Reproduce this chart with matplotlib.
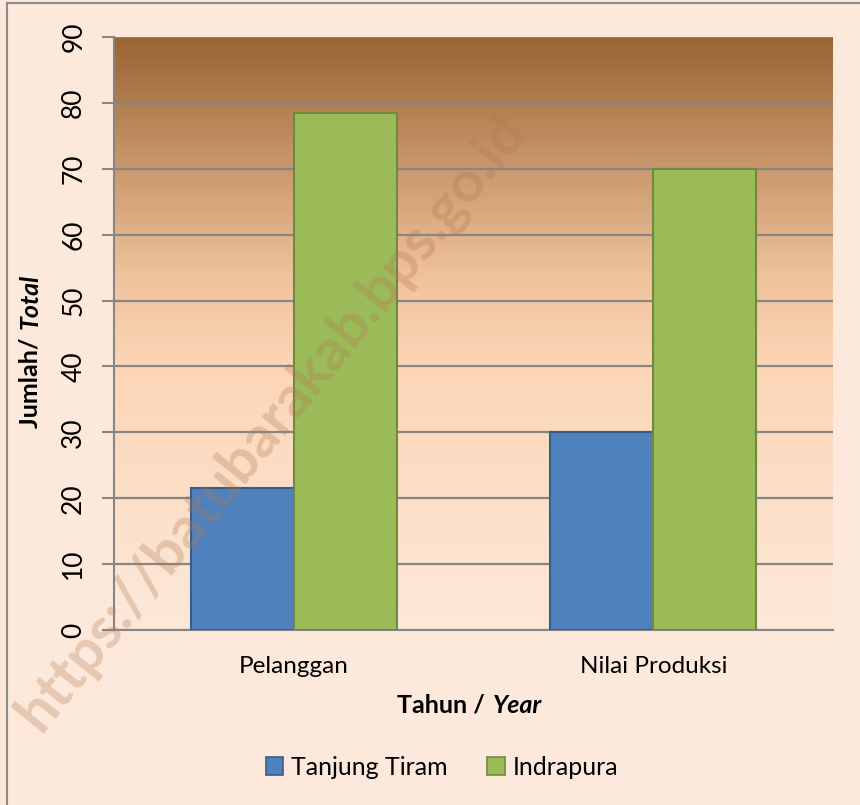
import numpy as np
import matplotlib.pyplot as plt
from matplotlib.colors import LinearSegmentedColormap
from matplotlib.patches import Patch

plt.rcParams["font.family"] = ["Lato", "DejaVu Sans"]

categories = ["Pelanggan", "Nilai Produksi"]
tanjung_tiram = [21.5, 30]
indrapura = [78.5, 70]
series_names = ["Tanjung Tiram", "Indrapura"]
yticks = [0, 10, 20, 30, 40, 50, 60, 70, 80, 90]

bg = "#FDE9DB"
blue, blue_edge = "#4F81BD", "#385D8A"
green, green_edge = "#9BBB59", "#71893F"
grid_col = "#868686"

fig = plt.figure(figsize=(8.6, 8.05), dpi=100)
fig.patch.set_facecolor(bg)
ax = fig.add_axes([114/860, 1-630/805, (833-114)/860, (630-37)/805])

# gradient background of the plot area
grad = LinearSegmentedColormap.from_list(
    "bg", [(0, "#FDE9DA"), (0.45, "#FBD5B5"), (0.6, "#EFC29B"), (1, "#9A6432")])
ax.imshow(np.linspace(0, 1, 256).reshape(-1, 1), cmap=grad, origin="lower",
          extent=[-0.5, 1.5, 0, 90], aspect="auto", zorder=0)

x = np.arange(len(categories))
w = 0.2865
ax.bar(x - w/2, tanjung_tiram, w, color=blue, edgecolor=blue_edge, linewidth=1.5, zorder=3)
ax.bar(x + w/2, indrapura, w, color=green, edgecolor=green_edge, linewidth=1.5, zorder=3)

ax.set_xlim(-0.5, 1.5)
ax.set_ylim(0, 90)
ax.set_yticks(yticks)
ax.set_yticklabels([str(v) for v in yticks], rotation=90, va="center", fontsize=19)
ax.set_xticks(x)
ax.set_xticklabels(categories, fontsize=17.5)
ax.tick_params(axis="x", length=0, pad=19)
ax.tick_params(axis="y", length=9, width=1.5, color=grid_col, pad=11)
for v in yticks:
    ax.axhline(v, color=grid_col, lw=1.6, zorder=2)
for s in ["top", "right"]:
    ax.spines[s].set_visible(False)
ax.spines["left"].set_color(grid_col)
ax.spines["left"].set_linewidth(1.5)
ax.spines["bottom"].set_color(grid_col)
ax.spines["bottom"].set_linewidth(1.5)

# axis titles with mixed styles
fig.text(30/860, 1-331/805, "Jumlah/ ", rotation=90, ha="center", va="top",
         fontsize=18, fontweight="bold")
fig.text(30/860, 1-329/805, "Total", rotation=90, ha="center", va="bottom",
         fontsize=18, fontweight="bold", style="italic")
fig.text(491/860, 1-705/805, "Tahun / ", ha="right", va="center",
         fontsize=18, fontweight="bold")
fig.text(493/860, 1-705/805, "Year", ha="left", va="center",
         fontsize=18, fontweight="bold", style="italic")

handles = [Patch(facecolor=blue, edgecolor=blue_edge, lw=1.2),
           Patch(facecolor=green, edgecolor=green_edge, lw=1.2)]
fig.legend(handles, series_names, loc="center", bbox_to_anchor=(442/860, 1-767/805),
           ncol=2, frameon=False, fontsize=18, handlelength=0.7, handleheight=0.7,
           handletextpad=0.3, columnspacing=1.6)

# watermark
fig.text(272/860, 1-422/805, "https://batubarakab.bps.go.id", rotation=51,
         ha="center", va="center", fontsize=42, fontweight="bold",
         color="#B07850", alpha=0.3, zorder=10)

# outer border
fig.add_artist(plt.Line2D([7/860, 7/860], [0, 1-3/805], color="#8C8C8C", lw=1.5))
fig.add_artist(plt.Line2D([7/860, 1], [1-3/805, 1-3/805], color="#8C8C8C", lw=1.5))

plt.savefig("out.png", dpi=100, facecolor=fig.get_facecolor())
